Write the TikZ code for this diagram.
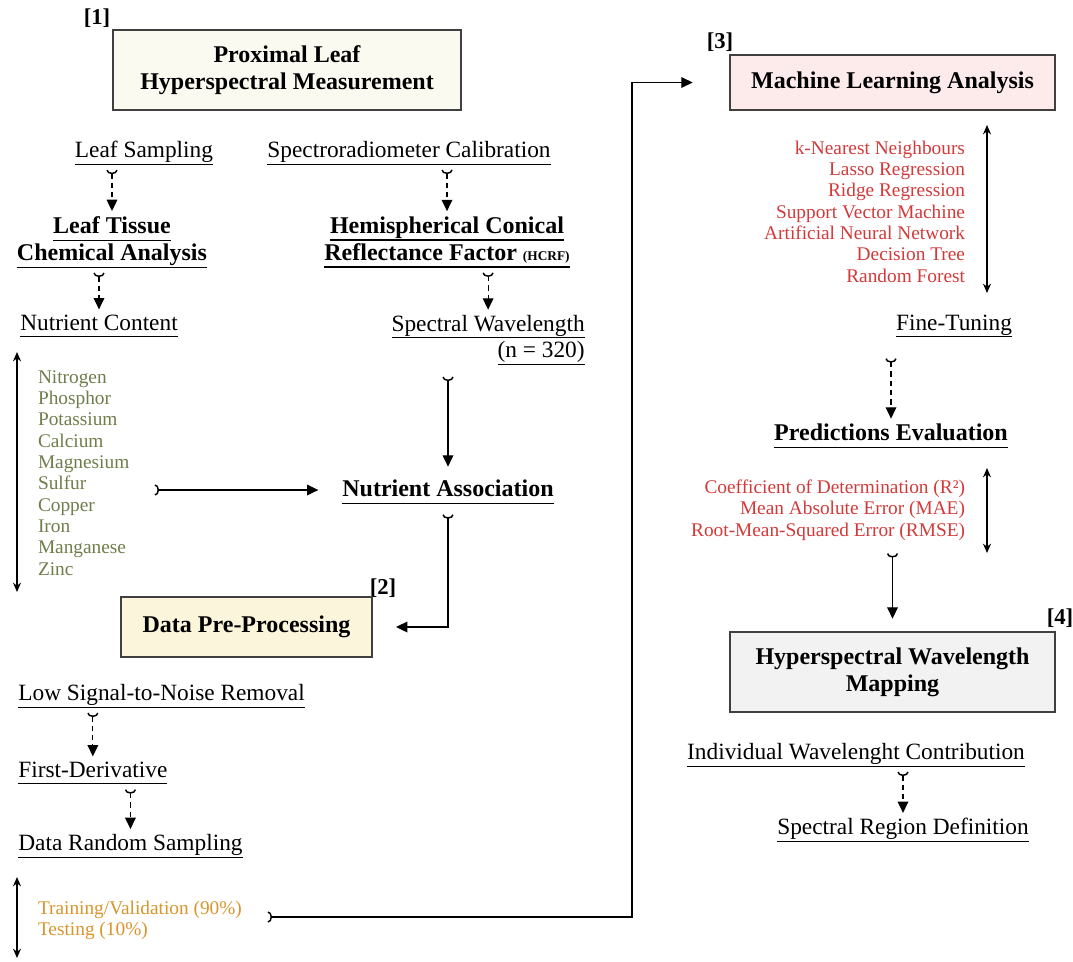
\documentclass[tikz,border=0pt]{standalone}
\usepackage{fontspec}
\setmainfont{Liberation Serif}
\usetikzlibrary{arrows.meta}

\definecolor{measfill}{HTML}{FAFAF0}
\definecolor{prepfill}{HTML}{FBF5DC}
\definecolor{mlfill}{HTML}{FDEBEB}
\definecolor{mapfill}{HTML}{F2F2F2}
\definecolor{boxline}{HTML}{404040}
\definecolor{elemgreen}{HTML}{6F7D4B}
\definecolor{splitorange}{HTML}{D9952B}
\definecolor{algored}{HTML}{D23A3A}

\newcommand{\uln}[1]{\leavevmode\vtop{\hbox{#1\vphantom{gyp}}\kern0.8pt\hrule height 0.8pt}}

\begin{document}
\begin{tikzpicture}[x=0.75pt, y=-0.75pt, inner sep=0pt, outer sep=0pt,
  lbl/.style={font=\fontsize{17.5}{20}\selectfont, outer sep=4pt},
  hdr/.style={font=\bfseries\fontsize{18}{20.25}\selectfont, align=center, outer sep=4pt},
  tag/.style={font=\bfseries\fontsize{17}{20}\selectfont},
  stagebox/.style={draw=boxline, line width=1.1pt, align=center,
    font=\bfseries\fontsize{18}{20.25}\selectfont},
  items/.style={font=\fontsize{14.5}{16}\selectfont},
  flow/.style={line width=0.9pt,
    {Arc Barb[reversed,length=3pt,width=8.5pt,line width=1.1pt]}-{Triangle[length=8.5pt,width=8pt]}},
  dflow/.style={flow, dash pattern=on 4pt off 3pt},
  twoway/.style={line width=0.9pt,
    {Stealth[length=7pt,width=6pt]}-{Stealth[length=7pt,width=6pt]}}]
\useasboundingbox (0,0) rectangle (1073,961);

% [1] measurement
\node[tag] (t1) at (97,18) {[1]};
\node[stagebox, fill=measfill, minimum width=261pt, minimum height=60pt] (meas)
  at (287,70) {Proximal Leaf\\Hyperspectral Measurement};
\node[lbl] (samp) at (144,153) {\uln{Leaf Sampling}};
\node[lbl] (spec) at (409,153) {\uln{Spectroradiometer Calibration}};
\node[hdr] (tissue) at (112,242) {\uln{Leaf Tissue}\\\uln{Chemical Analysis}};
\node[hdr] (hcrf) at (447,242)
  {\uln{Hemispherical Conical}\\\uln{Reflectance Factor {\fontsize{10}{11}\selectfont(HCRF)}}};
\node[lbl] (content) at (99,326) {\uln{Nutrient Content}};
\node[lbl, align=right, anchor=east] (wave) at (590,340)
  {\uln{Spectral Wavelength}\\\uln{(n = 320)}};
\node[items, text=elemgreen, align=left, anchor=west] (elems) at (38,473)
  {Nitrogen\\Phosphor\\Potassium\\Calcium\\Magnesium\\Sulfur\\Copper\\Iron\\Manganese\\Zinc};
\node[hdr] (assoc) at (448,492) {\uln{Nutrient Association}};

% [2] pre-processing
\node[tag] (t2) at (383,588) {[2]};
\node[stagebox, fill=prepfill, minimum width=188.25pt, minimum height=45pt] (prep)
  at (246.5,627) {Data Pre-Processing};
\node[lbl, anchor=west] (snr) at (13,696) {\uln{Low Signal-to-Noise Removal}};
\node[lbl, anchor=west] (deriv) at (13,773) {\uln{First-Derivative}};
\node[lbl, anchor=west] (rand) at (13,846) {\uln{Data Random Sampling}};
\node[items, text=splitorange, align=left, anchor=west] (split) at (38,920.5)
  {Training/Validation (90\%)\\Testing (10\%)};

% [3] machine learning
\node[tag] (t3) at (720,42) {[3]};
\node[stagebox, fill=mlfill, minimum width=243.75pt, minimum height=41.25pt] (ml)
  at (892.5,82.5) {Machine Learning Analysis};
\node[items, text=algored, align=right, anchor=east] (algos) at (965,211.5)
  {k-Nearest Neighbours\\Lasso Regression\\Ridge Regression\\Support Vector Machine\\Artificial Neural Network\\Decision Tree\\Random Forest};
\node[lbl] (tune) at (954,326) {\uln{Fine-Tuning}};
\node[hdr] (pred) at (891,436) {\uln{Predictions Evaluation}};
\node[items, text=algored, align=right, anchor=east] (metrics) at (965,510)
  {Coefficient of Determination (R²)\\Mean Absolute Error (MAE)\\Root-Mean-Squared Error (RMSE)};

% [4] mapping
\node[tag] (t4) at (1060,618) {[4]};
\node[stagebox, fill=mapfill, minimum width=243.75pt, minimum height=60pt] (map)
  at (892.5,672) {Hyperspectral Wavelength\\Mapping};
\node[lbl] (contrib) at (856,755) {\uln{Individual Wavelenght Contribution}};
\node[lbl] (region) at (903,830) {\uln{Spectral Region Definition}};

% free ends
\coordinate (elemsout) at (155,490);
\coordinate (splitout) at (268,917);
\coordinate (turn) at (632,82.5);
\coordinate (elemtop) at (17,352);
\coordinate (elembot) at (17,592);
\coordinate (splittop) at (17,877);
\coordinate (splitbot) at (17,958);
\coordinate (algotop) at (987,125);
\coordinate (algobot) at (987,293);
\coordinate (mettop) at (987,468);
\coordinate (metbot) at (987,553);

% connectors
\draw[dflow] (samp.south -| tissue.north) -- (tissue.north);
\draw[dflow] (spec.south -| hcrf.north) -- (hcrf.north);
\draw[dflow] (tissue.south -| content.north) -- (content.north);
\draw[dflow] (hcrf.south -| wave.north) -- (wave.north);
\draw[flow, shorten <=5pt, shorten >=6pt] (wave.south -| assoc.north) -- (assoc.north);
\draw[flow, shorten >=14pt] (elemsout) -- (assoc.west |- elemsout);
\draw[flow, shorten <=4pt, shorten >=18pt] (assoc.south) |- (prep.east);
\draw[dflow] (snr.south -| deriv.north) -- (deriv.north);
\draw[dflow] (deriv.south -| rand.north) -- (rand.north);
\draw[flow, shorten >=28pt] (splitout) -| (turn) -- (ml.west);
\draw[dflow, shorten <=12pt] (tune.south -| pred.north) -- (pred.north);
\draw[flow, shorten <=10pt, shorten >=10pt] (metrics.south -| map.north) -- (map.north);
\draw[dflow] (contrib.south -| region.north) -- (region.north);
\draw[twoway] (elemtop) -- (elembot);
\draw[twoway] (splittop) -- (splitbot);
\draw[twoway] (algotop) -- (algobot);
\draw[twoway] (mettop) -- (metbot);

\end{tikzpicture}
\end{document}
